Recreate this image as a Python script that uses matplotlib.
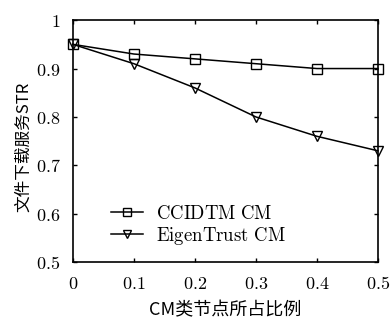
import matplotlib
matplotlib.use("Agg")
import matplotlib.pyplot as plt

x = [0, 0.1, 0.2, 0.3, 0.4, 0.5]
ccidtm = [0.95, 0.93, 0.92, 0.91, 0.90, 0.90]
eigen = [0.95, 0.91, 0.86, 0.80, 0.76, 0.73]
series_names = ["CCIDTM CM", "EigenTrust CM"]
xticks = [0, 0.1, 0.2, 0.3, 0.4, 0.5]
yticks = [0.5, 0.6, 0.7, 0.8, 0.9, 1.0]
xtick_labels = ["0", "0.1", "0.2", "0.3", "0.4", "0.5"]
ytick_labels = ["0.5", "0.6", "0.7", "0.8", "0.9", "1"]
xlabel = "CM类节点所占比例"
ylabel = "文件下载服务STR"

plt.rcParams['mathtext.fontset'] = 'cm'
plt.rcParams['font.family'] = ['DejaVu Serif', 'Noto Sans CJK SC']


def cm(s):
    return r'$\mathrm{' + s.replace(' ', r'\ ') + '}$'


fig = plt.figure(figsize=(3.92, 3.20), dpi=100)
ax = fig.add_axes([0.186, 0.181, 0.778, 0.756])

ax.plot(x, ccidtm, color='black', lw=1.1, marker='s', ms=7, mfc='none', mec='black', mew=1.0,
        label=cm(series_names[0]), clip_on=False, zorder=3)
ax.plot(x, eigen, color='black', lw=1.1, marker='v', ms=7.5, mfc='none', mec='black', mew=1.0,
        label=cm(series_names[1]), clip_on=False, zorder=3)

ax.set_xlim(0, 0.5)
ax.set_ylim(0.5, 1.0)
ax.set_xticks(xticks)
ax.set_yticks(yticks)
ax.set_xticklabels([cm(t) for t in xtick_labels], fontsize=13)
ax.set_yticklabels([cm(t) for t in ytick_labels], fontsize=13)
ax.tick_params(direction='in', top=True, right=True, length=3, width=1, pad=9)
for s in ax.spines.values():
    s.set_linewidth(1.2)

ax.set_xlabel(xlabel, fontsize=13, family=['Noto Sans CJK SC'], labelpad=6)
ax.set_ylabel(ylabel, fontsize=12, family=['Noto Sans CJK SC'])
ax.yaxis.set_label_coords(-0.135, 0.475)

leg = ax.legend(loc='center left', bbox_to_anchor=(0.07, 0.15), frameon=False,
                prop={'size': 13.5}, handlelength=1.7, markerscale=0.75,
                labelspacing=0.12, handletextpad=0.7)

fig.savefig('out.png', dpi=100)
